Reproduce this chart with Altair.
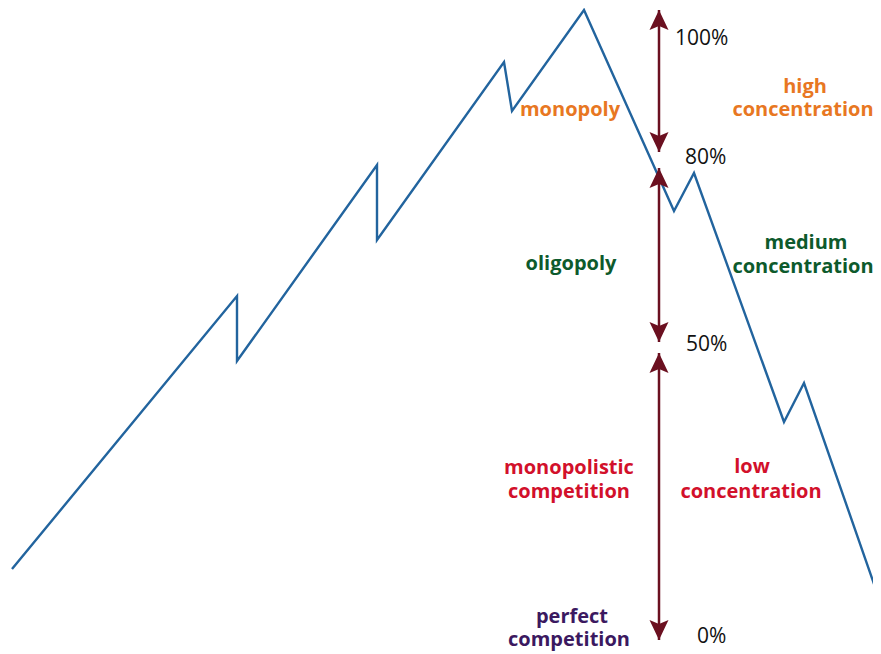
import altair as alt
import pandas as pd

# Zig-zag line (x position, height in chart units; height = 654 - pixel row)
line_x = [12, 237, 237, 377, 377, 504, 512, 584, 674, 694, 784, 804, 881]
line_h = [85, 358, 293, 489, 414, 592, 543, 644, 443, 481, 232, 271, 50]

# Double-headed arrows at x = 659 (top tip, bottom tip)
arrow_x = 659
arrow_top = [644, 486, 301]
arrow_bottom = [502, 312, 14]

# Percent labels
pct_text = ["100%", "80%", "50%", "0%"]
pct_x = [675, 685, 686, 697]
pct_h = [615, 496, 309, 17]

# Category labels (one row per text line)
cat_text = ["monopoly", "high", "concentration",
            "oligopoly", "medium", "concentration",
            "monopolistic", "competition", "low", "concentration",
            "perfect", "competition"]
cat_x = [570, 805, 803, 571, 806, 803, 569, 569, 752, 751, 572, 569]
cat_h = [544, 567, 544, 390, 411, 387, 186, 162, 187, 162, 37, 14]
cat_color = ["#e87722", "#e87722", "#e87722",
             "#0d5a2c", "#0d5a2c", "#0d5a2c",
             "#d2102b", "#d2102b", "#d2102b", "#d2102b",
             "#3b1960", "#3b1960"]

xs = alt.Scale(domain=[8, 873])
ys = alt.Scale(domain=[0, 646])

def X(f="x"):
    return alt.X(f"{f}:Q", scale=xs, axis=None)

def Y(f="h"):
    return alt.Y(f"{f}:Q", scale=ys, axis=None)

line_df = pd.DataFrame({"x": line_x, "h": line_h, "o": list(range(len(line_x)))})
line = alt.Chart(line_df).mark_line(color="#22649e", strokeWidth=2.4).encode(
    x=X(), y=Y(), order="o:Q")

arr_df = pd.DataFrame({"x": [arrow_x] * 3, "top": arrow_top, "bot": arrow_bottom})
shafts = alt.Chart(arr_df).mark_rule(color="#6b1020", strokeWidth=2.5).encode(
    x=X(), y=Y("top"), y2="bot:Q")

head_len = 10
up_df = pd.DataFrame({"x": [arrow_x] * 3, "h": [t - head_len for t in arrow_top]})
dn_df = pd.DataFrame({"x": [arrow_x] * 3, "h": [b + head_len for b in arrow_bottom]})
up_path = "M0,-1L0.95,1L0,0.6L-0.95,1Z"
dn_path = "M0,1L0.95,-1L0,-0.6L-0.95,-1Z"
heads_up = alt.Chart(up_df).mark_point(shape=up_path, size=400, filled=True,
                                        color="#6b1020", opacity=1).encode(x=X(), y=Y())
heads_dn = alt.Chart(dn_df).mark_point(shape=dn_path, size=400, filled=True,
                                        color="#6b1020", opacity=1).encode(x=X(), y=Y())

pct_df = pd.DataFrame({"t": pct_text, "x": pct_x, "h": pct_h})
pct = alt.Chart(pct_df).mark_text(align="left", baseline="middle", font="Open Sans",
                                   fontSize=21, color="#111111").encode(
    x=X(), y=Y(), text="t:N")

cat_df = pd.DataFrame({"t": cat_text, "x": cat_x, "h": cat_h, "c": cat_color})
cats = alt.Chart(cat_df).mark_text(align="center", baseline="middle", font="Open Sans",
                                    fontSize=20, fontWeight="bold").encode(
    x=X(), y=Y(), text="t:N", color=alt.Color("c:N", scale=None))

chart = alt.layer(line, shafts, heads_up, heads_dn, pct, cats).properties(
    width=865, height=646, padding=0, autosize="none", background="white"
).configure_view(stroke=None)

chart.save("out.html", embed_options={"renderer": "svg", "actions": False})
